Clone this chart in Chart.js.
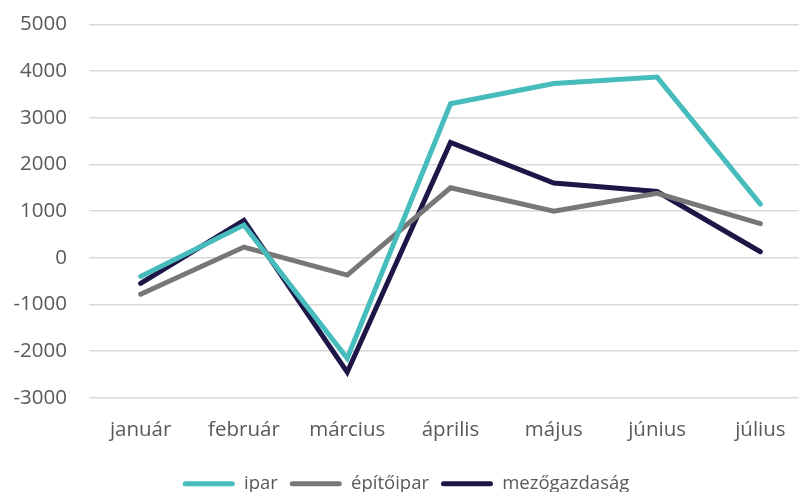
<!DOCTYPE html>
<html>
<head>
<meta charset="utf-8">
<script src="https://cdn.jsdelivr.net/npm/chart.js@4"></script>
<style>
  html, body { margin: 0; padding: 0; background: #fff; overflow: hidden; }
  #wrap { width: 812px; height: 513px; position: relative; margin-top: -10px; }
</style>
</head>
<body>
<div id="wrap"><canvas id="lineChart"></canvas></div>
<script>
const months = ['január', 'február', 'március', 'április', 'május', 'június', 'július'];
const ipar = [-400, 700, -2150, 3300, 3730, 3870, 1150];
const epitoipar = [-780, 230, -370, 1500, 1000, 1380, 730];
const mezogazdasag = [-550, 800, -2450, 2470, 1600, 1420, 130];

const textColor = '#595959';
Chart.defaults.font.family = '"Open Sans", sans-serif';
Chart.defaults.font.size = 20.5;
Chart.defaults.color = textColor;

function makeSet(label, data, color) {
    return {
        label: label,
        data: data,
        borderColor: color,
        backgroundColor: color,
        borderWidth: 5,
        pointRadius: 0,
        tension: 0,
        borderCapStyle: 'round',
        borderJoinStyle: 'miter'
    };
}

const ctx = document.getElementById('lineChart').getContext('2d');
const chart = new Chart(ctx, {
    type: 'line',
    data: {
        labels: months,
        datasets: [
            makeSet('ipar', ipar, '#47BCBC'),
            makeSet('építőipar', epitoipar, '#777777'),
            makeSet('mezőgazdaság', mezogazdasag, '#1F1648')
        ]
    },
    options: {
        responsive: true,
        maintainAspectRatio: false,
        animation: false,
        layout: { padding: { top: 4, left: 0, right: 0, bottom: 0 } },
        plugins: {
            tooltip: { enabled: false },
            legend: {
                position: 'bottom',
                labels: {
                    boxWidth: 52,
                    boxHeight: 5,
                    useBorderRadius: true,
                    borderRadius: 2.5,
                    padding: 12,
                    color: textColor,
                    font: { size: 18.5 },
                    generateLabels: (c) => {
                        // thin rounded line samples, no thick stroke border
                        return Chart.defaults.plugins.legend.labels.generateLabels(c).map(item => {
                            item.lineWidth = 0;
                            return item;
                        });
                    }
                }
            }
        },
        scales: {
            x: {
                offset: true,
                grid: { display: false, drawTicks: false },
                border: { display: false },
                ticks: { padding: 20, maxRotation: 0 }
            },
            y: {
                min: -3000,
                max: 5000,
                grid: { color: '#d9d9d9', lineWidth: 1.5, drawTicks: false },
                border: { display: false },
                ticks: {
                    stepSize: 1000,
                    padding: 22,
                    callback: (value) => String(value)
                },
                afterFit: (axis) => { axis.width = 89; }
            }
        }
    }
});
</script>
</body>
</html>
